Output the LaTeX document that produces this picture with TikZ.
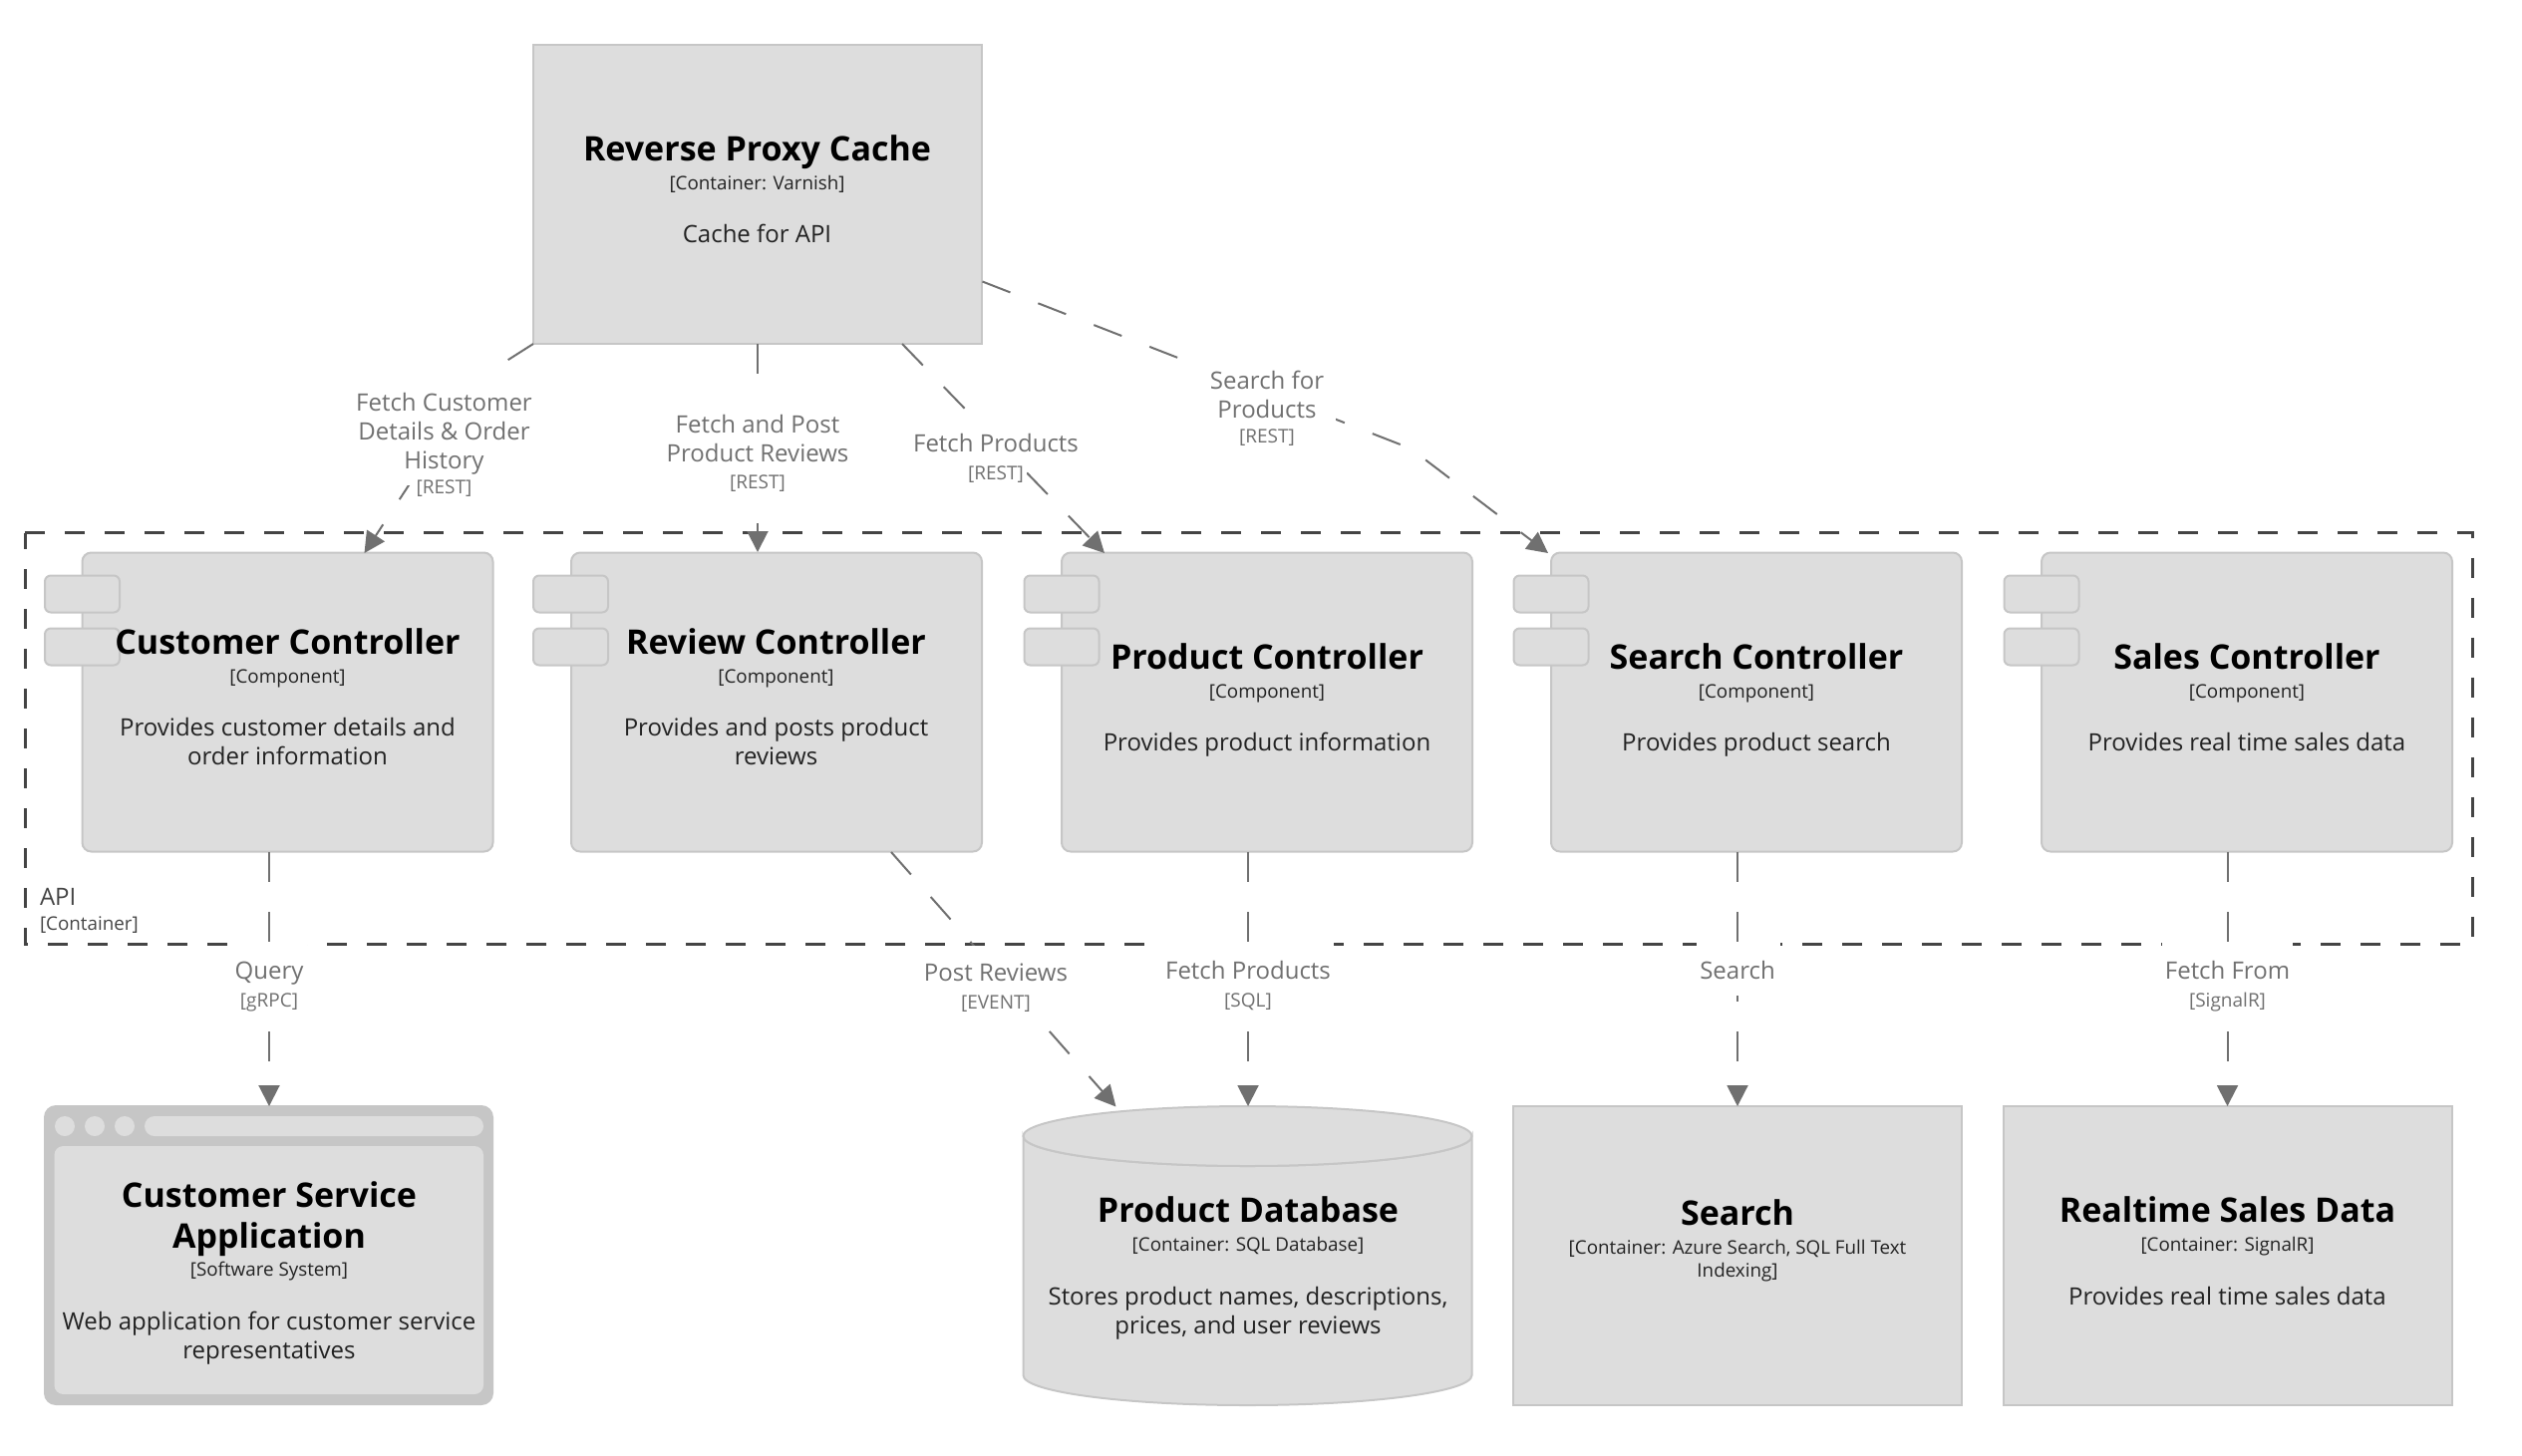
\documentclass[tikz,border=0pt]{standalone}
\usepackage{fontspec}
\setmainfont{Open Sans}
\usetikzlibrary{arrows.meta,calc}
\definecolor{boxfill}{HTML}{DDDDDD}
\definecolor{boxline}{HTML}{C6C6C6}
\definecolor{conn}{HTML}{707070}
\definecolor{bound}{HTML}{444444}
\definecolor{metatxt}{HTML}{222222}
\tikzset{
  every node/.style={inner sep=0pt,outer sep=0pt},
  boxnode/.style={draw=boxline,fill=boxfill,line width=2pt},
  comp/.style={boxnode,rounded corners=9pt,minimum width=412pt,minimum height=300pt},
  stub/.style={boxnode,rounded corners=6pt,minimum width=75pt,minimum height=37pt},
  ttl/.style={anchor=base,text=black,font=\fontsize{34}{40}\selectfont\bfseries},
  mt/.style={anchor=base,text=metatxt,font=\fontsize{18.8}{23}\selectfont},
  dsc/.style={anchor=base,text=metatxt,font=\fontsize{24}{29}\selectfont},
  lbl/.style={anchor=base,text=conn,font=\fontsize{24}{29}\selectfont},
  lblm/.style={anchor=base,text=conn,font=\fontsize{19}{23}\selectfont},
  conline/.style={draw=conn,line width=2pt,dash pattern=on 30pt off 30pt,line join=round,
    -{Triangle[length=21pt,width=21pt,fill=conn]}},
}
\begin{document}
\begin{tikzpicture}[x=1pt,y=-1pt]
\useasboundingbox (0,0) rectangle (2530,1460);
% API boundary
\draw[draw=bound,line width=3pt,dash pattern=on 20pt off 20pt,line cap=butt]
  (25,534.5) -- (2480,534.5) -- (2480,947.5) -- (25,947.5) -- cycle;
% boxes
\node[boxnode,minimum width=450pt,minimum height=300pt] (rpc) at (760,195) {};
\node[comp] (cc) at (288.5,704.5) {};
\node[comp] (rc) at (779,704.5) {};
\node[comp] (pc) at (1271,704.5) {};
\node[comp] (sc) at (1762,704.5) {};
\node[comp] (lc) at (2254,704.5) {};
\node[stub] (cc1) at (82.5,596) {};   \node[stub] (cc2) at (82.5,649) {};
\node[stub] (rc1) at (572.5,596) {};  \node[stub] (rc2) at (572.5,649) {};
\node[stub] (pc1) at (1065,596) {}; \node[stub] (pc2) at (1065,649) {};
\node[stub] (sc1) at (1556,596) {}; \node[stub] (sc2) at (1556,649) {};
\node[stub] (lc1) at (2048,596) {}; \node[stub] (lc2) at (2048,649) {};
% customer service application window
\node[fill=boxline,rounded corners=12pt,minimum width=451pt,minimum height=301pt] (csa) at (269.5,1259.5) {};
\node[fill=boxfill,rounded corners=9pt,minimum width=430.5pt,minimum height=249pt] (csain) at (269.75,1274.5) {};
\node[fill=boxfill,circle,minimum size=20pt] (csad1) at (65,1130) {};
\node[fill=boxfill,circle,minimum size=20pt] (csad2) at (95,1130) {};
\node[fill=boxfill,circle,minimum size=20pt] (csad3) at (125,1130) {};
\node[fill=boxfill,rounded corners=10pt,minimum width=340pt,minimum height=20pt] (csabar) at (315,1130) {};
% database
\path[draw=boxline,fill=boxfill,line width=2pt]
  (1026.5,1140) arc[start angle=180,end angle=360,x radius=225,y radius=-30] -- (1476.5,1380)
  arc[start angle=0,end angle=-180,x radius=225,y radius=-30] -- cycle;
\draw[draw=boxline,fill=boxfill,line width=2pt] (1251.5,1140) ellipse[x radius=225,y radius=30];
\node[minimum width=451pt,minimum height=300pt] (db) at (1251.5,1260) {};
% search and realtime
\node[boxnode,minimum width=450pt,minimum height=300pt] (sea) at (1743,1259.5) {};
\node[boxnode,minimum width=450pt,minimum height=300pt] (rts) at (2235,1259.5) {};
% connector ports
\coordinate (rpc-e) at (985.5,282.5);
\coordinate (rpc-s2) at (905,345);
\coordinate (cc-n) at (365.5,555);
\coordinate (rc-n) at (760,554);
\coordinate (pc-n) at (1108,555);
\coordinate (sc-n) at (1553,555);
\coordinate (cc-s) at (270,855);
\coordinate (rc-s) at (894,855);
\coordinate (pc-s) at (1252,855);
\coordinate (sc-s) at (1743,855);
\coordinate (lc-s) at (2234.5,855);
\coordinate (csa-n) at (270,1110);
\coordinate (db-n1) at (1119.5,1110.5);
\coordinate (db-n2) at (1252,1110);
\coordinate (sea-n) at (1743,1110);
\coordinate (rts-n) at (2234.5,1110);
\coordinate (bend1) at (480,380);
\coordinate (bend2) at (1415,450);
% connectors
\draw[conline] (rpc.south west) -- (bend1) -- (cc-n);
\draw[conline] (rpc.south) -- (rc-n);
\draw[conline] (rpc-s2) -- (pc-n);
\draw[conline] (rpc-e) -- (bend2) -- (sc-n);
\draw[conline] (cc-s) -- (csa-n);
\draw[conline] (rc-s) -- (db-n1);
\draw[conline] (pc-s) -- (db-n2);
\draw[conline] (sc-s) -- (sea-n);
\draw[conline] (lc-s) -- (rts-n);
% label backgrounds
\fill[white] (354,376) rectangle (537,487);
\fill[white] (414,487) rectangle (478,505);
\fill[white] (670,405) rectangle (849,470);
\fill[white] (730,470) rectangle (789,497);
\fill[white] (917,429) rectangle (1082,460);
\fill[white] (967,460) rectangle (1030,490);
\fill[white] (1202,366) rectangle (1340,425);
\fill[white] (1232,425) rectangle (1310,452);
\fill[white] (232,945.5) rectangle (308,1025);
\fill[white] (920,949.2) rectangle (1078,1025);
\fill[white] (1167,945.5) rectangle (1338,1025);
\fill[white] (1702,945.5) rectangle (1786,999);
\fill[white] (2169,945.5) rectangle (2300,1025);
% box texts
\node[ttl] (rpc-t) at (759.5,161) {Reverse Proxy Cache};
\node[mt] (rpc-m) at (759.5,190) {[Container: Varnish]};
\node[dsc] (rpc-d) at (759.5,243) {Cache for API};

\node[ttl] (cc-t) at (288.5,656) {Customer Controller};
\node[mt] (cc-m) at (288.5,685) {[Component]};
\node[dsc] (cc-d1) at (288.5,738) {Provides customer details and};
\node[dsc] (cc-d2) at (288.5,767) {order information};

\node[ttl] (rc-t) at (778.5,656) {Review Controller};
\node[mt] (rc-m) at (778.5,685) {[Component]};
\node[dsc] (rc-d1) at (778.5,738) {Provides and posts product};
\node[dsc] (rc-d2) at (778.5,767) {reviews};

\node[ttl] (pc-t) at (1271,671) {Product Controller};
\node[mt] (pc-m) at (1271,700) {[Component]};
\node[dsc] (pc-d) at (1271,753) {Provides product information};

\node[ttl] (sc-t) at (1762,671) {Search Controller};
\node[mt] (sc-m) at (1762,700) {[Component]};
\node[dsc] (sc-d) at (1762,753) {Provides product search};

\node[ttl] (lc-t) at (2254,671) {Sales Controller};
\node[mt] (lc-m) at (2254,700) {[Component]};
\node[dsc] (lc-d) at (2254,753) {Provides real time sales data};

\node[ttl] (csa-t1) at (270,1211) {Customer Service};
\node[ttl] (csa-t2) at (270,1252) {Application};
\node[mt] (csa-m) at (270,1280) {[Software System]};
\node[dsc] (csa-d1) at (270,1334) {Web application for customer service};
\node[dsc] (csa-d2) at (270,1363) {representatives};

\node[ttl] (db-t) at (1252,1226) {Product Database};
\node[mt] (db-m) at (1252,1255) {[Container: SQL Database]};
\node[dsc] (db-d1) at (1252,1309) {Stores product names, descriptions,};
\node[dsc] (db-d2) at (1252,1338) {prices, and user reviews};

\node[ttl] (sea-t) at (1743,1229) {Search};
\node[mt] (sea-m1) at (1743,1258) {[Container: Azure Search, SQL Full Text};
\node[mt] (sea-m2) at (1743,1281) {Indexing]};

\node[ttl] (rts-t) at (2234.5,1226) {Realtime Sales Data};
\node[mt] (rts-m) at (2234.5,1255) {[Container: SignalR]};
\node[dsc] (rts-d) at (2234.5,1309) {Provides real time sales data};

% boundary label
\node[anchor=base west,text=bound,font=\fontsize{24}{29}\selectfont] (api-t) at (40,908) {API};
\node[anchor=base west,text=bound,font=\fontsize{18.8}{23}\selectfont] (api-m) at (40,933) {[Container]};

% connector labels
\node[lbl] (l1a) at (445.5,412) {Fetch Customer};
\node[lbl] (l1b) at (445.5,441) {Details \& Order};
\node[lbl] (l1c) at (445.5,470) {History};
\node[lblm] (l1m) at (445.5,495) {[REST]};
\node[lbl] (l2a) at (760,434) {Fetch and Post};
\node[lbl] (l2b) at (760,463) {Product Reviews};
\node[lblm] (l2m) at (760,490) {[REST]};
\node[lbl] (l3a) at (999,453) {Fetch Products};
\node[lblm] (l3m) at (999,481) {[REST]};
\node[lbl] (l4a) at (1271,390) {Search for};
\node[lbl] (l4b) at (1271,419) {Products};
\node[lblm] (l4m) at (1271,444) {[REST]};
\node[lbl] (l5a) at (270,982) {Query};
\node[lblm] (l5m) at (270,1010) {[gRPC]};
\node[lbl] (l6a) at (999,984) {Post Reviews};
\node[lblm] (l6m) at (999,1012) {[EVENT]};
\node[lbl] (l7a) at (1252,982) {Fetch Products};
\node[lblm] (l7m) at (1252,1010) {[SQL]};
\node[lbl] (l8a) at (1743,982) {Search};
\node[lbl] (l9a) at (2234.5,982) {Fetch From};
\node[lblm] (l9m) at (2234.5,1010) {[SignalR]};
\end{tikzpicture}
\end{document}
